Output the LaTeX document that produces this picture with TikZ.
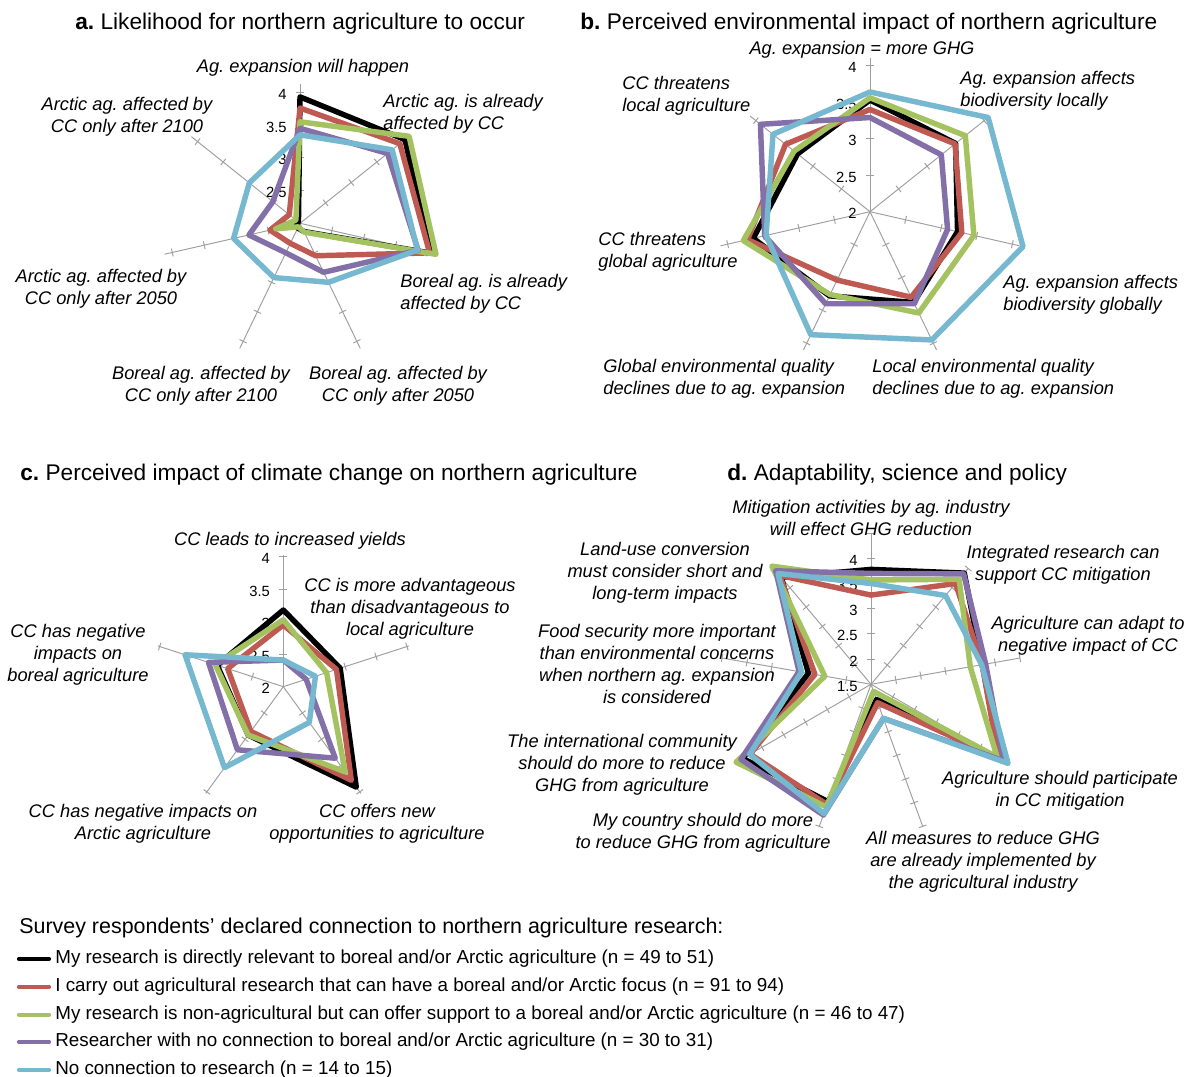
\documentclass[tikz,border=0pt]{standalone}
\usepackage{fontspec}
\setmainfont{Liberation Sans}
\definecolor{serRed}{RGB}{190,90,82}
\definecolor{serGreen}{RGB}{164,194,96}
\definecolor{serPurple}{RGB}{132,112,168}
\definecolor{serBlue}{RGB}{118,184,208}
\tikzset{
  axis line/.style={draw=gray!75, line width=0.55pt},
  tick label/.style={anchor=east, inner sep=0pt, font=\fontsize{8.4}{10}\selectfont},
  spoke label/.style={inner sep=0pt, align=center, yshift=-1.6pt, font=\fontsize{10.4}{12.5}\selectfont\itshape},
  left spoke label/.style={spoke label, align=left, anchor=west},
  panel title/.style={anchor=west, inner sep=0pt, yshift=-1.6pt, font=\fontsize{12.9}{15}\selectfont},
  legend title/.style={anchor=west, inner sep=0pt, yshift=-1.6pt, font=\fontsize{12.2}{14}\selectfont},
  legend text/.style={anchor=west, inner sep=0pt, yshift=-1.6pt, font=\fontsize{10.7}{12}\selectfont},
  series/.style={line width=3.1pt, line join=round},
  series black/.style={series, draw=black},
  series red/.style={series, draw=serRed},
  series green/.style={series, draw=serGreen},
  series purple/.style={series, draw=serPurple},
  series blue/.style={series, draw=serBlue},
  legend line/.style={line width=2.4pt, line cap=round},
}
% spokes, ticks and value labels of one web (uses \wn \wk \wmin \wend \wticks \wlabels)
\newcommand{\webaxes}{%
  \foreach \i in {1,...,\wn}{
    \pgfmathsetmacro{\wang}{-90+(\i-1)*360/\wn}
    \draw[axis line] (0,0) -- (\wang:{(\wend-\wmin)*\wk});
    \foreach \t in \wticks
      \draw[axis line] (\wang:{(\t-\wmin)*\wk}) ++({\wang+90}:4) -- ++({\wang-90}:8);
  }
  \foreach \t in \wlabels
    \node[tick label] at (-13,{-(\t-\wmin)*\wk+2}) {\t};
}
% one closed series line
\newcommand{\webline}[2]{%
  \foreach \v [count=\i] in {#2}
    \coordinate (w\i) at ({-90+(\i-1)*360/\wn}:{(\v-\wmin)*\wk});
  \draw[#1] (w1) \foreach \j in {2,...,\wn}{ -- (w\j) } -- cycle;
}

\begin{document}
\frenchspacing
\begin{tikzpicture}[x=0.02cm, y=-0.02cm]
\useasboundingbox (0,0) rectangle (1191,1077);

% titles
\node[panel title] (ta) at (75,21) {\textbf{a.} Likelihood for northern agriculture to occur};
\node[panel title] (tb) at (580,21) {\textbf{b.} Perceived environmental impact of northern agriculture};
\node[panel title] (tc) at (20,472) {\textbf{c.} Perceived impact of climate change on northern agriculture};
\node[panel title] (td) at (727,472) {\textbf{d.} Adaptability, science and policy};

% panel a
\begin{scope}[shift={(300,223.3)}]
  \def\wn{7}\def\wk{65.5}\def\wmin{2}\def\wend{4.12}
  \def\wticks{2.5,3,3.5,4}\def\wlabels{2,2.5,3,3.5,4}
  \webaxes
  \webline{series black}{3.93,4.05,4.05,2.14,2.08,2.06,2.03}
  \webline{series red}{3.76,3.95,4.03,2.55,2.34,2.47,2.21}
  \webline{series green}{3.55,4.13,4.13,2.15,2.06,2.38,2.08}
  \webline{series purple}{3.45,3.71,3.85,2.83,2.5,2.8,2.53}
  \webline{series blue}{3.35,3.8,3.84,3.0,2.92,3.04,2.99}
\end{scope}
\node[spoke label] (la0) at (303,65) {Ag. expansion will happen};
\node[left spoke label] (la1) at (383,111) {Arctic ag. is already\\affected by CC};
\node[left spoke label] (la2) at (400,291) {Boreal ag. is already\\affected by CC};
\node[spoke label] (la3) at (398,383) {Boreal ag. affected by\\CC only after 2050};
\node[spoke label] (la4) at (201,383) {Boreal ag. affected by\\CC only after 2100};
\node[spoke label] (la5) at (101,286) {Arctic ag. affected by\\CC only after 2050};
\node[spoke label] (la6) at (127,114) {Arctic ag. affected by\\CC only after 2100};

% panel b
\begin{scope}[shift={(870,211.7)}]
  \def\wn{7}\def\wk{73}\def\wmin{2}\def\wend{4.1}
  \def\wticks{2.5,3,3.5,4}\def\wlabels{2,2.5,3,3.5,4}
  \webaxes
  \webline{series black}{3.53,3.5,3.23,3.38,3.28,3.64,3.27}
  \webline{series red}{3.4,3.49,3.29,3.3,3.04,3.72,3.48}
  \webline{series green}{3.56,3.67,3.46,3.54,3.26,3.78,3.33}
  \webline{series purple}{3.29,3.25,3.09,3.4,3.4,3.48,3.92}
  \webline{series blue}{3.64,4.07,4.15,3.95,3.87,3.46,3.7}
\end{scope}
\node[spoke label] (lb0) at (862,47) {Ag. expansion = more GHG};
\node[left spoke label] (lb1) at (960,88) {Ag. expansion affects\\biodiversity locally};
\node[left spoke label] (lb2) at (1003,292) {Ag. expansion affects\\biodiversity globally};
\node[left spoke label] (lb3) at (872,376) {Local environmental quality\\declines due to ag. expansion};
\node[left spoke label] (lb4) at (603,376) {Global environmental quality\\declines due to ag. expansion};
\node[left spoke label] (lb5) at (598,249) {CC threatens\\global agriculture};
\node[left spoke label] (lb6) at (622,93) {CC threatens\\local agriculture};

% panel c
\begin{scope}[shift={(283.3,686.7)}]
  \def\wn{5}\def\wk{65}\def\wmin{2}\def\wend{4.03}
  \def\wticks{2.5,3,3.5,4}\def\wlabels{2,2.5,3,3.5,4}
  \webaxes
  \webline{series black}{3.18,2.92,3.91,2.92,3.07}
  \webline{series red}{2.95,2.86,3.78,2.85,2.9}
  \webline{series green}{3.03,2.7,3.62,2.92,3.1}
  \webline{series purple}{2.41,2.37,3.36,3.2,3.21}
  \webline{series blue}{2.41,2.52,2.68,3.54,3.59}
\end{scope}
\node[spoke label] (lc0) at (290,538) {CC leads to increased yields};
\node[spoke label] (lc1) at (410,606) {CC is more advantageous\\than disadvantageous to\\local agriculture};
\node[spoke label] (lc2) at (377,821) {CC offers new\\opportunities to agriculture};
\node[spoke label] (lc3) at (143,821) {CC has negative impacts on\\Arctic agriculture};
\node[spoke label] (lc4) at (78,652) {CC has negative\\impacts on\\boreal agriculture};

% panel d
\begin{scope}[shift={(871,684.3)}]
  \def\wn{9}\def\wk{50.4}\def\wmin{1.5}\def\wend{4.5}
  \def\wticks{2,2.5,3,3.5,4,4.5}\def\wlabels{1.5,2,2.5,3,3.5,4}
  \webaxes
  \webline{series black}{3.78,4.38,3.74,4.49,1.82,3.98,4.44,2.76,4.27}
  \webline{series red}{3.27,4.11,3.74,4.42,1.89,4.04,4.27,2.63,4.32}
  \webline{series green}{3.57,4.22,3.5,4.39,1.65,4.09,4.59,2.43,4.56}
  \webline{series purple}{3.7,4.36,3.81,4.54,2.22,4.26,4.48,2.95,4.44}
  \webline{series blue}{3.5,3.8,3.73,4.64,2.22,4.23,4.28,2.9,4.37}
\end{scope}
\node[spoke label] (ld0) at (871,515) {Mitigation activities by ag. industry\\will effect GHG reduction};
\node[spoke label] (ld1) at (1063,562) {Integrated research can\\support CC mitigation};
\node[spoke label] (ld2) at (1088,633) {Agriculture can adapt to\\negative impact of CC};
\node[spoke label] (ld3) at (1060,788) {Agriculture should participate\\in CC mitigation};
\node[spoke label] (ld4) at (983,859) {All measures to reduce GHG\\are already implemented by\\the agricultural industry};
\node[spoke label] (ld5) at (703,830) {My country should do more\\to reduce GHG from agriculture};
\node[spoke label] (ld6) at (622,762) {The international community\\should do more to reduce\\GHG from agriculture};
\node[spoke label] (ld7) at (657,661) {Food security more important\\than environmental concerns\\when northern ag. expansion\\is considered};
\node[spoke label] (ld8) at (665,570) {Land-use conversion\\must consider short and\\long-term impacts};

% legend
\node[legend title] (lgt) at (19,925) {Survey respondents’ declared connection to northern agriculture research:};
\node[legend text] (lg1) at (55,956) {My research is directly relevant to boreal and/or Arctic agriculture (n = 49 to 51)};
\node[legend text] (lg2) at (55,984) {I carry out agricultural research that can have a boreal and/or Arctic focus (n = 91 to 94)};
\node[legend text] (lg3) at (55,1012) {My research is non-agricultural but can offer support to a boreal and/or Arctic agriculture (n = 46 to 47)};
\node[legend text] (lg4) at (55,1039) {Researcher with no connection to boreal and/or Arctic agriculture (n = 30 to 31)};
\node[legend text] (lg5) at (55,1067) {No connection to research (n = 14 to 15)};
\draw[legend line, black] (lg1.west) ++(-6,0) -- ++(-30,0);
\draw[legend line, serRed] (lg2.west) ++(-6,0) -- ++(-30,0);
\draw[legend line, serGreen] (lg3.west) ++(-6,0) -- ++(-30,0);
\draw[legend line, serPurple] (lg4.west) ++(-6,0) -- ++(-30,0);
\draw[legend line, serBlue] (lg5.west) ++(-6,0) -- ++(-30,0);
\end{tikzpicture}
\end{document}
